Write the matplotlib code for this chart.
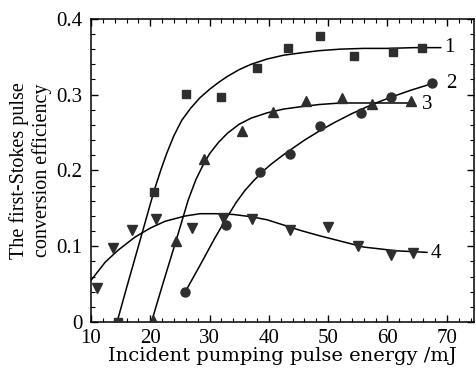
"""First-Stokes pulse conversion efficiency vs pumping energy.
"""
import numpy as np
import matplotlib
matplotlib.use('Agg')
import matplotlib.pyplot as plt
from matplotlib.ticker import MultipleLocator

plt.rcParams['font.family'] = ['Liberation Serif', 'DejaVu Serif']

# measured points (energy /mJ, efficiency)
x1 = [14.5, 20.6, 26.1, 31.9, 38.0, 43.2, 48.7, 54.4, 60.9, 65.8]
y1 = [0.0, 0.172, 0.301, 0.297, 0.335, 0.362, 0.378, 0.351, 0.356, 0.362]

x2 = [25.9, 32.7, 38.5, 43.6, 48.6, 55.5, 60.6, 67.5]
y2 = [0.040, 0.128, 0.198, 0.222, 0.259, 0.276, 0.297, 0.315]

x3 = [20.5, 24.4, 29.1, 35.5, 40.7, 46.2, 52.4, 57.4, 63.9]
y3 = [0.003, 0.107, 0.215, 0.252, 0.277, 0.292, 0.296, 0.288, 0.291]

x4 = [11.0, 13.7, 16.9, 21.0, 27.1, 32.3, 37.1, 43.5, 49.9, 55.1, 60.6, 64.3]
y4 = [0.045, 0.098, 0.121, 0.136, 0.124, 0.137, 0.136, 0.121, 0.125, 0.100, 0.088, 0.091]

# fitted curves
cx1 = [14.4, 16.0, 18.0, 20.6, 21.8, 22.8, 24.0, 25.3, 26.8, 28.4, 30.0, 31.5,
       33.0, 35.0, 37.0, 39.7, 42.5, 45.3, 48.5, 52.0, 56.0, 60.0, 64.5, 69.0]
cy1 = [0.0, 0.045, 0.100, 0.172, 0.201, 0.223, 0.246, 0.266, 0.282, 0.296,
       0.307, 0.316, 0.324, 0.333, 0.340, 0.347, 0.352, 0.355, 0.358, 0.360,
       0.361, 0.361, 0.362, 0.362]

cx2 = [25.9, 28.4, 30.9, 33.0, 34.5, 36.0, 37.5, 39.0, 40.5, 42.0, 43.6, 46.0,
       48.5, 51.0, 54.0, 57.4, 60.7, 64.0, 67.7]
cy2 = [0.040, 0.075, 0.111, 0.139, 0.158, 0.174, 0.187, 0.199, 0.209, 0.218,
       0.227, 0.240, 0.252, 0.263, 0.275, 0.287, 0.297, 0.306, 0.315]

cx3 = [20.2, 22.3, 24.3, 26.4, 27.7, 28.9, 30.0, 31.5, 33.0, 35.0, 37.0, 39.7,
       42.5, 45.3, 48.5, 52.1, 56.0, 60.0, 64.2]
cy3 = [0.0, 0.055, 0.106, 0.161, 0.188, 0.207, 0.222, 0.237, 0.249, 0.261,
       0.269, 0.276, 0.281, 0.284, 0.287, 0.289, 0.289, 0.289, 0.289]

cx4 = [10.0, 12.4, 14.6, 17.4, 20.0, 22.5, 25.9, 28.4, 31.0, 34.0, 37.0, 39.7,
       42.5, 45.3, 48.5, 52.0, 56.0, 61.6, 66.7]
cy4 = [0.055, 0.079, 0.095, 0.112, 0.124, 0.133, 0.140, 0.143, 0.143, 0.142,
       0.139, 0.135, 0.128, 0.121, 0.114, 0.107, 0.099, 0.094, 0.092]

curve_labels = ['1', '2', '3', '4']
label_x = [70.4, 70.7, 66.7, 68.1]
label_y = [0.362, 0.315, 0.287, 0.090]

fig = plt.figure(figsize=(4.76, 3.69), dpi=100)
ax = fig.add_axes([0.191, 0.127, 0.805, 0.822])

line_kw = dict(color='black', lw=1.1, solid_joinstyle='round',
               solid_capstyle='round', zorder=2)
ax.plot(cx1, cy1, **line_kw)
ax.plot(cx2, cy2, **line_kw)
ax.plot(cx3, cy3, **line_kw)
ax.plot(cx4, cy4, **line_kw)

mk_kw = dict(ls='none', color='#2e2e2e', mec='#2e2e2e', zorder=3)
ax.plot(x1, y1, marker='s', ms=6, **mk_kw)
ax.plot(x2, y2, marker='o', ms=6.5, **mk_kw)
ax.plot(x3, y3, marker='^', ms=7.5, **mk_kw)
ax.plot(x4, y4, marker='v', ms=7.5, **mk_kw)

for lab, lx, ly in zip(curve_labels, label_x, label_y):
    ax.text(lx, ly, lab, fontsize=15, ha='center', va='center')

ax.set_xlim(10, 74.6)
ax.set_ylim(0, 0.4)
ax.xaxis.set_major_locator(MultipleLocator(10))
ax.xaxis.set_minor_locator(MultipleLocator(2))
ax.yaxis.set_minor_locator(MultipleLocator(0.02))
ax.set_yticks([0, 0.1, 0.2, 0.3, 0.4])
ax.set_yticklabels(['0', '0.1', '0.2', '0.3', '0.4'])
ax.tick_params(which='both', direction='in', top=True, right=True,
               labelsize=15)
ax.tick_params(axis='x', pad=5)
ax.tick_params(axis='y', pad=6)
ax.tick_params(which='major', length=5, width=1)
ax.tick_params(which='minor', length=3, width=0.8)
for s in ax.spines.values():
    s.set_linewidth(1.1)

ax.set_xlabel('Incident pumping pulse energy /mJ', fontsize=14,
              family=['DejaVu Serif'], labelpad=-1)
ax.set_ylabel('The first-Stokes pulse\nconversion efficiency', fontsize=14.5,
              labelpad=3, linespacing=1.2)

plt.savefig('out.png', dpi=100)
